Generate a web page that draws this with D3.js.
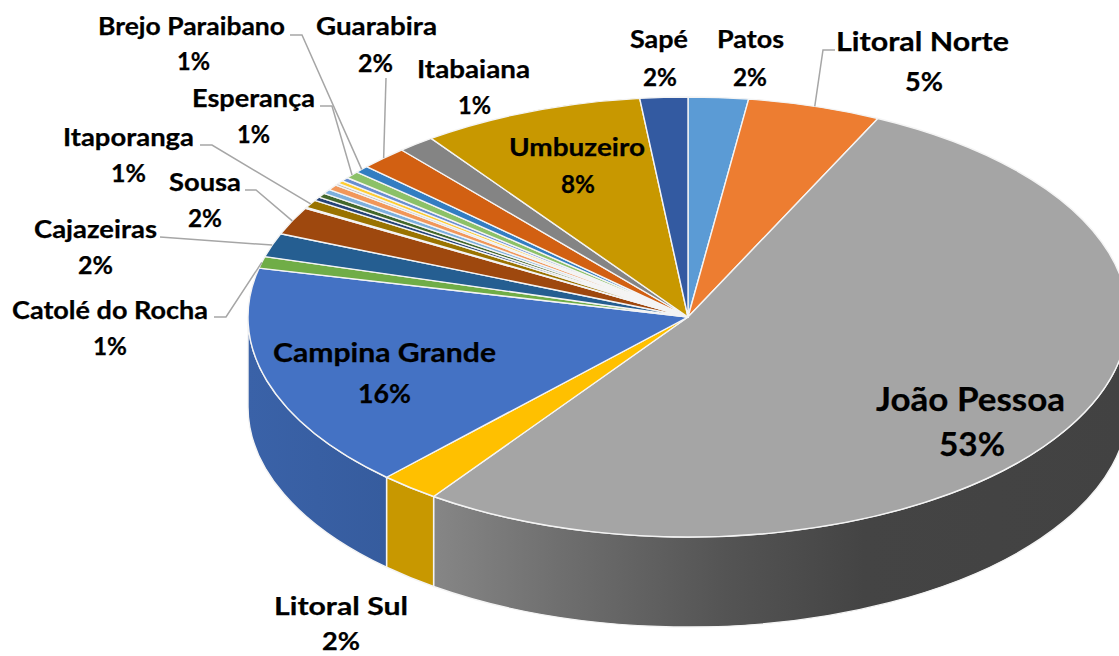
<!DOCTYPE html>
<html><head><meta charset="utf-8">
<script src="https://cdnjs.cloudflare.com/ajax/libs/d3/7.8.5/d3.min.js"></script>
<style>html,body{margin:0;padding:0;background:#fff}svg{display:block}text{font-family:Lato,"Open Sans",sans-serif;font-weight:700;fill:#000;stroke:#000;stroke-width:0.25px}</style>
</head><body><svg id="c" width="1119" height="656"></svg>
<script>
const categories=["Patos","Litoral Norte","João Pessoa","Litoral Sul","Campina Grande","Catolé do Rocha","Cajazeiras","Sousa","Sem rótulo 1","Itaporanga","Sem rótulo 2","Sem rótulo 3","Sem rótulo 4","Sem rótulo 5","Sem rótulo 6","Sem rótulo 7","Sem rótulo 8","Esperança","Brejo Paraibano","Guarabira","Itabaiana","Umbuzeiro","Sapé"];
const shares=[2.2,4.9,52.7,2.2,16.55,0.86,1.75,2.05,0.08,0.58,0.28,0.33,0.33,0.4,0.15,0.25,0.28,0.53,0.53,1.75,1.36,8.17,1.75];
const percentLabels=["2%","5%","53%","2%","16%","1%","2%","2%","","1%","","","","","","","","1%","1%","2%","1%","8%","2%"];
const colors=["#5b9bd5","#ed7d31","#a5a5a5","#ffc000","#4472c4","#70ad47","#255e91","#9e480e","#636363","#997300","#264478","#43682b","#7cafdd","#f1975a","#b7b7b7","#ffcd33","#698ed0","#8cc168","#327dc2","#d26012","#848484","#c89800","#335aa1"];
const sideStops={"João Pessoa":[[0,"#868686"],[0.18,"#6f6f6f"],[0.42,"#545454"],[0.62,"#444444"],[1,"#424242"]],"Campina Grande":[[0,"#3a62a8"],[1,"#365c9e"]],"Litoral Sul":[[0,"#c89800"],[1,"#c89800"]]};
// label layout: category, name x0, x1, baseline, pct x0, x1, baseline, font size
const labelLayout=[
["Brejo Paraibano",98,285,35,177,210,70,24.5],["Guarabira",316,437,35,358,393,72,24.5],["Itabaiana",417,530,78,458,491,114,24.5],
["Sapé",630,688,48,643,677,86,24.5],["Patos",717,784,48,733,767,86,24.5],["Litoral Norte",836,1009,51,905,943,91,27.5],
["Esperança",192,315,107,237,270,143,24.5],["Itaporanga",63,194,146,111,146,182,24.5],["Sousa",169,241,191,188,222,227,24.5],
["Cajazeiras",34,157,238,78,113,274,24.5],["Catolé do Rocha",12,208,319,93,127,355,24.5],["Campina Grande",273,496,362,358,411,403,27],
["Umbuzeiro",509,645,156,561,595,193,24.5],["João Pessoa",876,1065,411,939,1005,456,33],["Litoral Sul",274,408,615,322,360,650,25]];
// leader lines: category whose slice edge is reached, elbow points
const leaderLayout=[
["Brejo Paraibano",[[290,35],[302,35]]],["Guarabira",[[386,78]]],["Esperança",[[320,106],[332,106]]],
["Itaporanga",[[200,145],[212,145]]],["Sousa",[[245,190],[256,190]]],["Cajazeiras",[[160,237]]],
["Catolé do Rocha",[[214,317],[226,317]]],["Litoral Norte",[[835,50],[823,50]]]];

const cx=688,cy=317,R=440,squash=0.5,depth=180;
const svg=d3.select("#c");
const defs=svg.append("defs");
const pie=d3.pie().sort(null).value(d=>d.v).startAngle(0).endAngle(2*Math.PI);
const arcs=pie(categories.map((c,i)=>({c,v:shares[i],col:colors[i],pct:percentLabels[i]})));
const byName=Object.fromEntries(arcs.map(a=>[a.data.c,a]));
const radial=d3.scaleLinear().domain([0,1]).range([0,R]);
const g=svg.append("g").attr("transform",`translate(${cx},${cy}) scale(1,${squash})`);
const arcGen=d3.arc().innerRadius(0).outerRadius(radial(1));
const toD3=a=>a-Math.PI/2;
function side(a){
  const a0=Math.max(a.startAngle,Math.PI/2),a1=Math.min(a.endAngle,3*Math.PI/2);
  const p=d3.path();
  p.arc(0,0,R,toD3(a0),toD3(a1));
  p.lineTo(R*Math.cos(toD3(a1)),R*Math.sin(toD3(a1))+depth);
  p.arc(0,depth,R,toD3(a1),toD3(a0),true);
  p.closePath();
  return p.toString();
}
Object.entries(sideStops).forEach(([name,stops],i)=>{
  const lg=defs.append("linearGradient").attr("id","s"+i);
  stops.forEach(s=>lg.append("stop").attr("offset",s[0]).attr("stop-color",s[1]));
  byName[name].grad="url(#s"+i+")";
});
const strokeW=1.4,strokeC="#f4f4f4";
g.selectAll("path.side").data(arcs.filter(a=>a.grad)).join("path").attr("class","side")
 .attr("d",side).attr("fill",a=>a.grad).attr("stroke",strokeC).attr("stroke-width",strokeW).attr("vector-effect","non-scaling-stroke");
g.selectAll("path.top").data(arcs).join("path").attr("class","top")
 .attr("d",arcGen).attr("fill",a=>a.data.col).attr("stroke",strokeC).attr("stroke-width",strokeW).attr("stroke-linejoin","round").attr("vector-effect","non-scaling-stroke");

const edge=a=>{const m=(a.startAngle+a.endAngle)/2;return [cx+R*Math.sin(m),cy-R*squash*Math.cos(m)];};
const line=d3.line();
svg.selectAll("path.leader").data(leaderLayout).join("path").attr("class","leader")
 .attr("d",d=>line([...d[1],edge(byName[d[0]])])).attr("fill","none").attr("stroke","#a6a6a6").attr("stroke-width",1.5);

const txt=svg.append("g");
const fit=(s,x0,x1,y,size)=>txt.append("text").attr("x",x0).attr("y",y).attr("font-size",size)
  .attr("textLength",x1-x0).attr("lengthAdjust","spacingAndGlyphs").text(s);
labelLayout.forEach(l=>{
  fit(l[0],l[1],l[2],l[3],l[7]);
  fit(byName[l[0]].data.pct,l[4],l[5],l[6],l[7]);
});
</script></body></html>
